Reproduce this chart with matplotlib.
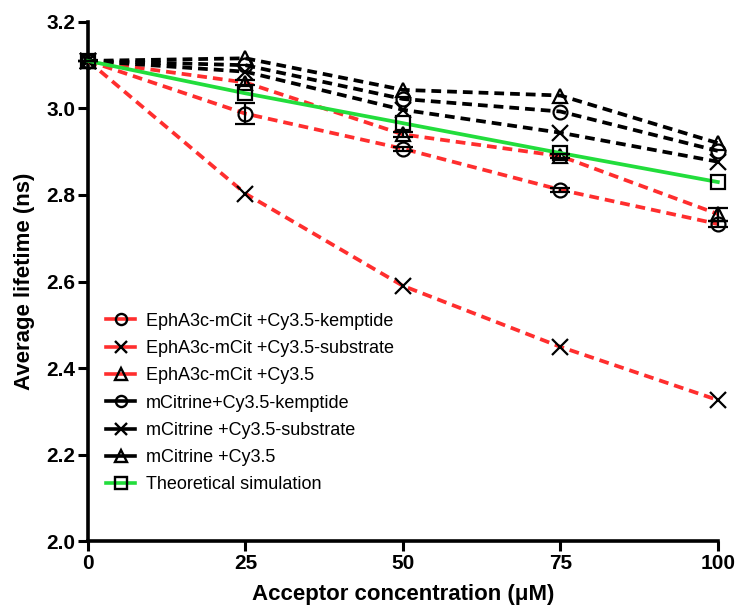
import numpy as np
import matplotlib
matplotlib.use("Agg")
import matplotlib.pyplot as plt
from matplotlib.lines import Line2D

# -----------------------------------------------------------------------------
# Data
# -----------------------------------------------------------------------------

conc = [0, 25, 50, 75, 100]

epha_kemptide = [3.11, 2.988, 2.907, 2.812, 2.733]
epha_kemptide_err = [0.0, 0.025, 0.005, 0.005, 0.008]
epha_substrate = [3.11, 2.803, 2.590, 2.449, 2.326]
epha_cy35 = [3.11, 3.060, 2.940, 2.890, 2.756]
epha_cy35_err = [0.0, 0.005, 0.005, 0.005, 0.015]
mcit_kemptide = [3.11, 3.100, 3.022, 2.993, 2.902]
mcit_substrate = [3.11, 3.085, 2.997, 2.944, 2.877]
mcit_cy35 = [3.11, 3.116, 3.043, 3.030, 2.920]
theory = [3.11, 3.035, 2.966, 2.897, 2.830]

labels = [
    "EphA3c-mCit +Cy3.5-kemptide",
    "EphA3c-mCit +Cy3.5-substrate",
    "EphA3c-mCit +Cy3.5",
    "mCitrine+Cy3.5-kemptide",
    "mCitrine +Cy3.5-substrate",
    "mCitrine +Cy3.5",
    "Theoretical simulation",
]

# -----------------------------------------------------------------------------
# Plot
# -----------------------------------------------------------------------------

plt.rcParams["font.family"] = ["Liberation Sans", "DejaVu Sans"]

fig = plt.figure(figsize=(7.4, 6.1), dpi=100)
ax = fig.add_axes([0.119, 0.113, 0.851, 0.851])

red = "#ff2e2e"
green = "#22dd3c"
dash = (0, (2.6, 1.6))
ms = 10
mew = 1.6

series = [
    (epha_kemptide, epha_kemptide_err, red, "o", dash),
    (epha_substrate, None, red, "x", dash),
    (epha_cy35, epha_cy35_err, red, "^", dash),
    (mcit_kemptide, None, "black", "o", dash),
    (mcit_substrate, None, "black", "x", dash),
    (mcit_cy35, None, "black", "^", dash),
    (theory, None, green, "s", "-"),
]

handles = []
for (vals, err, col, mk, ls), lab in zip(series, labels):
    size = ms if mk != "x" else ms + 1
    ax.plot(conc, vals, color=col, linestyle=ls, linewidth=2.7,
            marker=mk, markersize=size,
            markerfacecolor="none", markeredgecolor="black",
            markeredgewidth=mew, clip_on=False, zorder=3)
    if err is not None:
        ax.errorbar(conc, vals, yerr=err, fmt="none", ecolor="black",
                    elinewidth=1.6, capsize=7, capthick=1.6,
                    clip_on=False, zorder=4)
    # legend handles use a solid line
    handles.append(Line2D([], [], color=col, linestyle="-", linewidth=2.6,
                          marker=mk, markersize=size * 0.8,
                          markerfacecolor="none", markeredgecolor="black",
                          markeredgewidth=1.7, label=lab))

ax.set_xlim(0, 100)
ax.set_ylim(2.0, 3.2)
ax.set_xticks(conc)
ax.set_yticks(np.arange(2.0, 3.21, 0.2))
ax.set_yticklabels(["%.1f" % v for v in np.arange(2.0, 3.21, 0.2)])

for s in ["top", "right"]:
    ax.spines[s].set_visible(False)
for s in ["left", "bottom"]:
    ax.spines[s].set_linewidth(2.6)

ax.tick_params(axis="both", which="major", direction="out", length=7,
               width=2.2, labelsize=15, pad=2)
for t in ax.get_xticklabels() + ax.get_yticklabels():
    t.set_fontweight("bold")

ax.set_xlabel("Acceptor concentration (\u03bcM)", fontsize=16,
              fontweight="bold", labelpad=8)
ax.set_ylabel("Average lifetime (ns)", fontsize=16, fontweight="bold",
              labelpad=8)

ax.legend(handles=handles, loc="lower left", bbox_to_anchor=(0.0, 0.057),
          frameon=False, fontsize=13, handlelength=1.6, handletextpad=0.6,
          labelspacing=0.57, borderaxespad=0.6)

fig.savefig("out.png", dpi=100)
